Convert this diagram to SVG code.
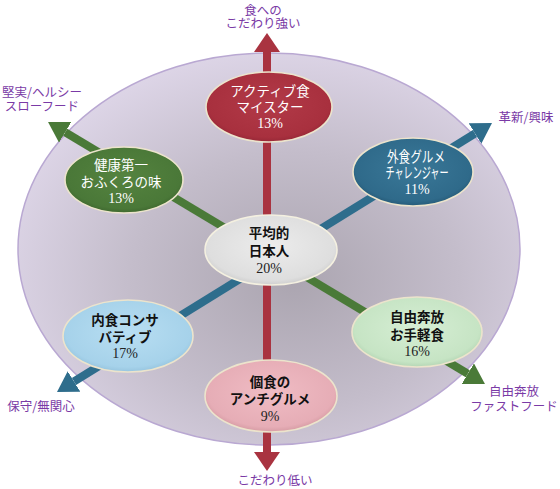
<svg xmlns="http://www.w3.org/2000/svg" width="560" height="489" viewBox="0 0 560 489">
<defs>
<style>
.jp{font-family:"Noto Sans CJK JP","Noto Sans",sans-serif;font-size:13.5px;text-anchor:middle}
.pc{font-family:"Liberation Serif",serif;font-size:14px;text-anchor:middle}
.w{fill:#ffffff}
.k{fill:#111111;font-weight:bold}
.pk{fill:#222222}
.lab{font-family:"Noto Sans CJK JP","Noto Sans",sans-serif;font-size:12.5px;fill:#7a3aa6;text-anchor:middle}
.node{stroke:#ece4cc;stroke-width:1.6}
.ax{fill:none;stroke-width:8}
</style>
<radialGradient id="gBg" cx="0.55" cy="0.58" r="0.6">
<stop offset="0" stop-color="#aba5b0"/>
<stop offset="0.55" stop-color="#c4bdcb"/>
<stop offset="1" stop-color="#ddd5e7"/>
</radialGradient>
<radialGradient id="gRed" cx="0.5" cy="0.45" r="0.6">
<stop offset="0" stop-color="#b23a48"/>
<stop offset="0.8" stop-color="#a8303e"/>
<stop offset="1" stop-color="#8c2232"/>
</radialGradient>
<radialGradient id="gGreen" cx="0.5" cy="0.45" r="0.6">
<stop offset="0" stop-color="#55833f"/>
<stop offset="0.8" stop-color="#4a7838"/>
<stop offset="1" stop-color="#385e2a"/>
</radialGradient>
<radialGradient id="gBlue" cx="0.5" cy="0.45" r="0.6">
<stop offset="0" stop-color="#3a7898"/>
<stop offset="0.8" stop-color="#2f6a8a"/>
<stop offset="1" stop-color="#20506c"/>
</radialGradient>
<radialGradient id="gGrey" cx="0.5" cy="0.45" r="0.6">
<stop offset="0" stop-color="#ececec"/>
<stop offset="0.8" stop-color="#dedede"/>
<stop offset="1" stop-color="#c4c4c4"/>
</radialGradient>
<radialGradient id="gLBlue" cx="0.5" cy="0.45" r="0.6">
<stop offset="0" stop-color="#b8def2"/>
<stop offset="0.8" stop-color="#a6d2ea"/>
<stop offset="1" stop-color="#8cbcd8"/>
</radialGradient>
<radialGradient id="gLGreen" cx="0.5" cy="0.45" r="0.6">
<stop offset="0" stop-color="#d6eed4"/>
<stop offset="0.8" stop-color="#c6e4c4"/>
<stop offset="1" stop-color="#a8ccaa"/>
</radialGradient>
<radialGradient id="gPink" cx="0.5" cy="0.45" r="0.6">
<stop offset="0" stop-color="#f0bcc4"/>
<stop offset="0.8" stop-color="#e6adb6"/>
<stop offset="1" stop-color="#cc9098"/>
</radialGradient>
<marker id="mRed" markerUnits="userSpaceOnUse" markerWidth="22" markerHeight="28" refX="0" refY="13" orient="auto-start-reverse">
<path d="M0,0 L19,13 L0,26 z" fill="#a93340"/>
</marker>
<marker id="mGreen" markerUnits="userSpaceOnUse" markerWidth="22" markerHeight="26" refX="0" refY="12" orient="auto-start-reverse">
<path d="M0,0 L20,12 L0,24 z" fill="#4a7a38"/>
</marker>
<marker id="mBlue" markerUnits="userSpaceOnUse" markerWidth="22" markerHeight="26" refX="0" refY="12" orient="auto-start-reverse">
<path d="M0,0 L20,12 L0,24 z" fill="#2e6d8c"/>
</marker>
</defs>

<ellipse id="background" cx="269" cy="249" rx="251" ry="196" fill="url(#gBg)" stroke="#b9a8d2" stroke-width="1.5"/>

<g id="connectors">
<line class="ax" x1="267" y1="52" x2="267" y2="452" stroke="#a93340" marker-start="url(#mRed)" marker-end="url(#mRed)"/>
<line class="ax" x1="65.2" y1="132.3" x2="467.8" y2="373.7" stroke="#4a7a38" marker-start="url(#mGreen)" marker-end="url(#mGreen)"/>
<line class="ax" x1="74" y1="381.5" x2="475" y2="133.5" stroke="#2e6d8c" marker-start="url(#mBlue)" marker-end="url(#mBlue)"/>
</g>

<g id="node-active">
<ellipse class="node" cx="269" cy="107" rx="63" ry="35" fill="url(#gRed)"/>
<text class="jp w" x="270" y="96">アクティブ食</text>
<text class="jp w" x="270" y="112">マイスター</text>
<text class="pc w" x="270" y="128">13%</text>
</g>

<g id="node-health">
<ellipse class="node" cx="124" cy="180" rx="59" ry="33" fill="url(#gGreen)"/>
<text class="jp w" x="121" y="170">健康第一</text>
<text class="jp w" x="121" y="187">おふくろの味</text>
<text class="pc w" x="121" y="203">13%</text>
</g>

<g id="node-gourmet">
<ellipse class="node" cx="413" cy="172" rx="60" ry="34" fill="url(#gBlue)"/>
<text class="jp w" x="416" y="162" style="font-size:15px" textLength="58" lengthAdjust="spacingAndGlyphs">外食グルメ</text>
<text class="jp w" x="417" y="178" style="font-size:15px" textLength="63" lengthAdjust="spacingAndGlyphs">チャレンジャー</text>
<text class="pc w" x="417" y="194">11%</text>
</g>

<g id="node-average">
<ellipse class="node" cx="271" cy="250" rx="66" ry="35" fill="url(#gGrey)" style="stroke:#f4f0e0"/>
<text class="jp k" x="269" y="238">平均的</text>
<text class="jp k" x="269" y="256">日本人</text>
<text class="pc pk" x="269" y="273">20%</text>
</g>

<g id="node-conservative">
<ellipse class="node" cx="128" cy="336" rx="65" ry="36" fill="url(#gLBlue)"/>
<text class="jp k" x="125" y="325">内食コンサ</text>
<text class="jp k" x="125" y="342">バティブ</text>
<text class="pc pk" x="125" y="358">17%</text>
</g>

<g id="node-free">
<ellipse class="node" cx="417" cy="332" rx="65" ry="35" fill="url(#gLGreen)"/>
<text class="jp k" x="417" y="322">自由奔放</text>
<text class="jp k" x="417" y="340">お手軽食</text>
<text class="pc pk" x="417" y="356">16%</text>
</g>

<g id="node-anti">
<ellipse class="node" cx="271" cy="396" rx="66" ry="36" fill="url(#gPink)"/>
<text class="jp k" x="270" y="387">個食の</text>
<text class="jp k" x="270" y="404">アンチグルメ</text>
<text class="pc pk" x="270" y="421">9%</text>
</g>

<g id="labels">
<text class="lab" x="263" y="14.5">食への</text>
<text class="lab" x="263" y="28">こだわり強い</text>
<text class="lab" x="42" y="97">堅実/ヘルシー</text>
<text class="lab" x="42" y="111">スローフード</text>
<text class="lab" x="526" y="122">革新/興味</text>
<text class="lab" x="41" y="411">保守/無関心</text>
<text class="lab" x="514" y="396">自由奔放</text>
<text class="lab" x="514" y="411">ファストフード</text>
<text class="lab" x="275" y="485">こだわり低い</text>
</g>
</svg>
